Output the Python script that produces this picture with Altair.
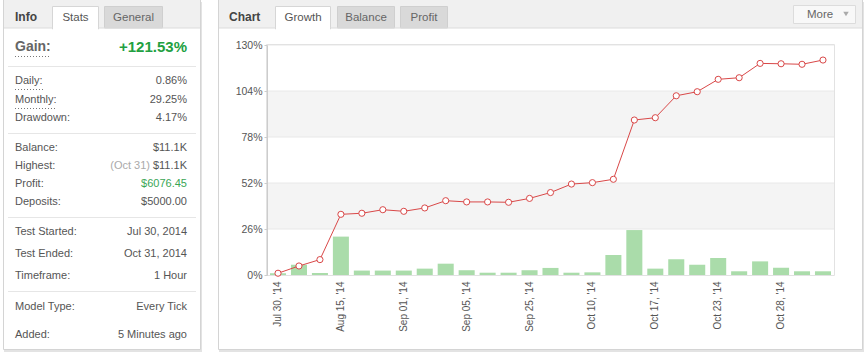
import json
import altair as alt
import pandas as pd

# ---------------- data ----------------
growth = [1.0, 5.1, 8.7, 34.3, 34.9, 36.9, 36.0, 37.9, 42.0, 41.3, 41.3, 41.1, 43.3, 46.6,
          51.4, 52.2, 54.1, 87.6, 88.9, 101.3, 103.6, 110.6, 111.5, 119.6, 119.4, 119.1, 121.5]
daily_bars = [1.0, 5.8, 1.1, 21.7, 2.5, 2.5, 2.5, 3.6, 6.4, 2.7, 1.3, 1.3, 2.7, 4.0,
              1.3, 1.5, 11.3, 25.4, 3.6, 8.9, 5.8, 9.6, 2.1, 7.7, 4.1, 2.1, 2.1]
tick_labels = ["Jul 30, '14", "Aug 15, '14", "Sep 01, '14", "Sep 05, '14", "Sep 25, '14",
               "Oct 10, '14", "Oct 17, '14", "Oct 23, '14", "Oct 28, '14"]
y_ticks = [0, 26, 52, 78, 104, 130]
bands = [(26, 52), (78, 104)]

gain_label = "Gain:"
gain_value = "+121.53%"
info_labels = ["Daily:", "Monthly:", "Drawdown:", "Balance:", "Highest:", "Profit:", "Deposits:",
               "Test Started:", "Test Ended:", "Timeframe:", "Model Type:", "Added:"]
info_values = ["0.86%", "29.25%", "4.17%", "$11.1K", "$11.1K", "$6076.45", "$5000.00",
               "Jul 30, 2014", "Oct 31, 2014", "1 Hour", "Every Tick", "5 Minutes ago"]
highest_date = "(Oct 31)"
info_tabs = ["Stats", "General"]
chart_tabs = ["Growth", "Balance", "Profit"]

# ---------------- layout (page pixels) ----------------
FONT = "Liberation Sans"
OX, OY = 267, 45          # plot origin on the page
W, H = 567, 230           # plot size
TXT = "#555555"


def px(x):
    return x - OX


def py(y):
    return y - OY


def rect_df(rows):
    return pd.DataFrame([{"x": px(a), "x2": px(b), "y": py(c), "y2": py(d), "fill": f, "stroke": s}
                         for a, b, c, d, f, s in rows])


def rect_layer(df):
    return alt.Chart(df).mark_rect(strokeWidth=1).encode(
        x=alt.X("x:Q", scale=None), x2="x2:Q",
        y=alt.Y("y:Q", scale=None), y2="y2:Q",
        fill=alt.Fill("fill:N", scale=None), stroke=alt.Stroke("stroke:N", scale=None))


def text_layer(rows, align, size, weight="normal"):
    df = pd.DataFrame([{"x": px(x), "y": py(y), "text": t, "color": c} for x, y, t, c in rows])
    return alt.Chart(df).mark_text(align=align, baseline="middle", font=FONT,
                                   fontSize=size, fontWeight=weight).encode(
        x=alt.X("x:Q", scale=None), y=alt.Y("y:Q", scale=None),
        text="text:N", color=alt.Color("color:N", scale=None))


def rule_layer(rows, dash=None):
    df = pd.DataFrame([{"x": px(a), "x2": px(b), "y": py(y), "color": c} for a, b, y, c in rows])
    kw = {"strokeWidth": 1}
    if dash:
        kw["strokeDash"] = dash
    return alt.Chart(df).mark_rule(**kw).encode(
        x=alt.X("x:Q", scale=None), x2="x2:Q",
        y=alt.Y("y:Q", scale=None),
        color=alt.Color("color:N", scale=None))


# panels, shadows, headers, tabs
chrome = rect_df([
    (4, 202, 2, 352, "#e3e3e3", "transparent"),
    (219, 864, 2, 352, "#e3e3e3", "transparent"),
    (3.5, 200.5, -0.5, 349.5, "#ffffff", "#d4d4d4"),
    (218.5, 862.5, -0.5, 349.5, "#ffffff", "#d4d4d4"),
    (4, 200, 0, 28, "#f0f0f0", "transparent"),
    (219, 862, 0, 28, "#f0f0f0", "transparent"),
    # info tabs
    (52.5, 98.5, 6.5, 29, "#ffffff", "#d6d6d6"),
    (104.5, 162.5, 6.5, 28, "#d9d9d9", "#cfcfcf"),
    # chart tabs
    (275.5, 330.5, 6.5, 29, "#ffffff", "#d6d6d6"),
    (337.5, 394.5, 6.5, 28, "#d9d9d9", "#cfcfcf"),
    (400.5, 447.5, 6.5, 28, "#d9d9d9", "#cfcfcf"),
    # more button
    (793.5, 855.5, 5.5, 23.5, "#f8f8f8", "#dcdcdc"),
])
tab_fix = rect_df([
    (53, 98, 27, 30, "#ffffff", "transparent"),
    (276, 330, 27, 30, "#ffffff", "transparent"),
])
plot_frame = rect_df([
    (OX - 0.5, OX + W + 0.5, OY - 0.5, OY + H + 0.5, "transparent", "#e2e2e2"),
])
header_lines = [(4, 52.5, 28, "#dcdcdc"), (98.5, 200, 28, "#dcdcdc"),
                (219, 275.5, 28, "#dcdcdc"), (330.5, 862, 28, "#dcdcdc")]
separators = [(8, 196, 66.5, "#e6e6e6"), (8, 196, 133.5, "#e6e6e6"),
              (8, 196, 217.5, "#e6e6e6"), (8, 196, 291.5, "#e6e6e6")]
underlines = [(15, 51, 56.5, "#777777"), (15, 43, 89.5, "#777777"), (15, 57, 108.5, "#777777")]

row_y = [81, 100, 118, 148, 166, 184, 202, 232, 254, 276, 307, 335]
value_colors = [TXT] * len(info_values)
value_colors[5] = "#3aa655"

label_rows = [(15, y, t, TXT) for y, t in zip(row_y, info_labels)]
value_rows = [(187, y, t, c) for y, t, c in zip(row_y, info_values, value_colors)]
value_rows.append((150, row_y[4], highest_date, "#aaaaaa"))

header_rows = [(15, 17, "Info", "#444444"), (229, 17, "Chart", "#444444")]
tab_rows = [(75.5, 18, info_tabs[0], TXT), (133.5, 18, info_tabs[1], "#666666"),
            (303, 18, chart_tabs[0], TXT), (366, 18, chart_tabs[1], "#666666"),
            (424, 18, chart_tabs[2], "#666666"), (820, 15, "More", "#666666")]

tri = pd.DataFrame([{"x": px(846), "y": py(14)}])

# ---------------- plot ----------------
df = pd.DataFrame({"idx": list(range(len(growth))), "growth": growth, "bar": daily_bars})
band_df = pd.DataFrame({"lo": [b[0] for b in bands], "hi": [b[1] for b in bands]})
grid_df = pd.DataFrame({"v": y_ticks[1:]})

label_expr = json.dumps(tick_labels) + "[floor(datum.value / 3)]"
x_enc = alt.X("idx:O",
              scale=alt.Scale(paddingInner=0.235, paddingOuter=0.143),
              axis=alt.Axis(values=list(range(0, len(growth), 3)), labelExpr=label_expr,
                            labelAngle=270, ticks=False, domain=False, grid=False,
                            labelPadding=6, title=None, labelColor=TXT, labelFont=FONT,
                            labelFontSize=10, zindex=2))
y_scale = alt.Scale(domain=[0, 130], nice=False, zero=True)
y_axis = alt.Axis(values=y_ticks, labelExpr="datum.value + '%'", title=None, grid=False,
                  domainColor="#cccccc", tickColor="#cccccc", tickSize=3,
                  labelColor=TXT, labelFont=FONT, zindex=2,
                  labelFontSize=10.5, labelPadding=2)

band_layer = alt.Chart(band_df).mark_rect(color="#f4f4f4").encode(
    x=alt.value(0), x2=alt.value(W),
    y=alt.Y("lo:Q", scale=y_scale, axis=y_axis),
    y2="hi:Q")

grid_layer = alt.Chart(grid_df).mark_rule(color="#e8e8e8", strokeWidth=1).encode(
    x=alt.value(0), x2=alt.value(W),
    y=alt.Y("v:Q", scale=y_scale, axis=y_axis))

bar_layer = alt.Chart(df).mark_bar(color="#aadcaa").encode(
    x=x_enc, y=alt.Y("bar:Q", scale=y_scale, axis=y_axis))

line_layer = alt.Chart(df).mark_line(color="#d94848", strokeWidth=1).encode(
    x=x_enc, y=alt.Y("growth:Q", scale=y_scale, axis=y_axis))

point_layer = alt.Chart(df).mark_point(shape="circle", filled=True, fill="#ffffff",
                                       stroke="#d94848", strokeWidth=1, size=38,
                                       opacity=1).encode(
    x=x_enc, y=alt.Y("growth:Q", scale=y_scale, axis=y_axis))

layers = [
    rect_layer(chrome),
    rect_layer(tab_fix),
    rule_layer(header_lines),
    rule_layer(separators),
    rule_layer(underlines, dash=[1, 2]),
    band_layer,
    grid_layer,
    rect_layer(plot_frame),
    bar_layer,
    line_layer,
    point_layer,
    text_layer(label_rows, "left", 11),
    text_layer(value_rows, "right", 11),
    text_layer(header_rows, "left", 12, "bold"),
    text_layer([(15, 47, gain_label, "#666666")], "left", 14, "bold"),
    text_layer([(187, 47, gain_value, "#22a041")], "right", 15, "bold"),
    text_layer(tab_rows, "center", 11.5),
    alt.Chart(tri).mark_point(shape="triangle-down", filled=True, color="#aaaaaa",
                              size=30, opacity=1).encode(
        x=alt.X("x:Q", scale=None), y=alt.Y("y:Q", scale=None)),
]

chart = alt.layer(*layers).properties(
    width=W, height=H,
    padding={"left": OX, "top": OY, "right": 864 - OX - W, "bottom": 354 - OY - H},
    autosize="none",
    background="#ffffff",
).configure_view(stroke=None)

chart.save("out.html", embed_options={"renderer": "svg", "actions": False})
